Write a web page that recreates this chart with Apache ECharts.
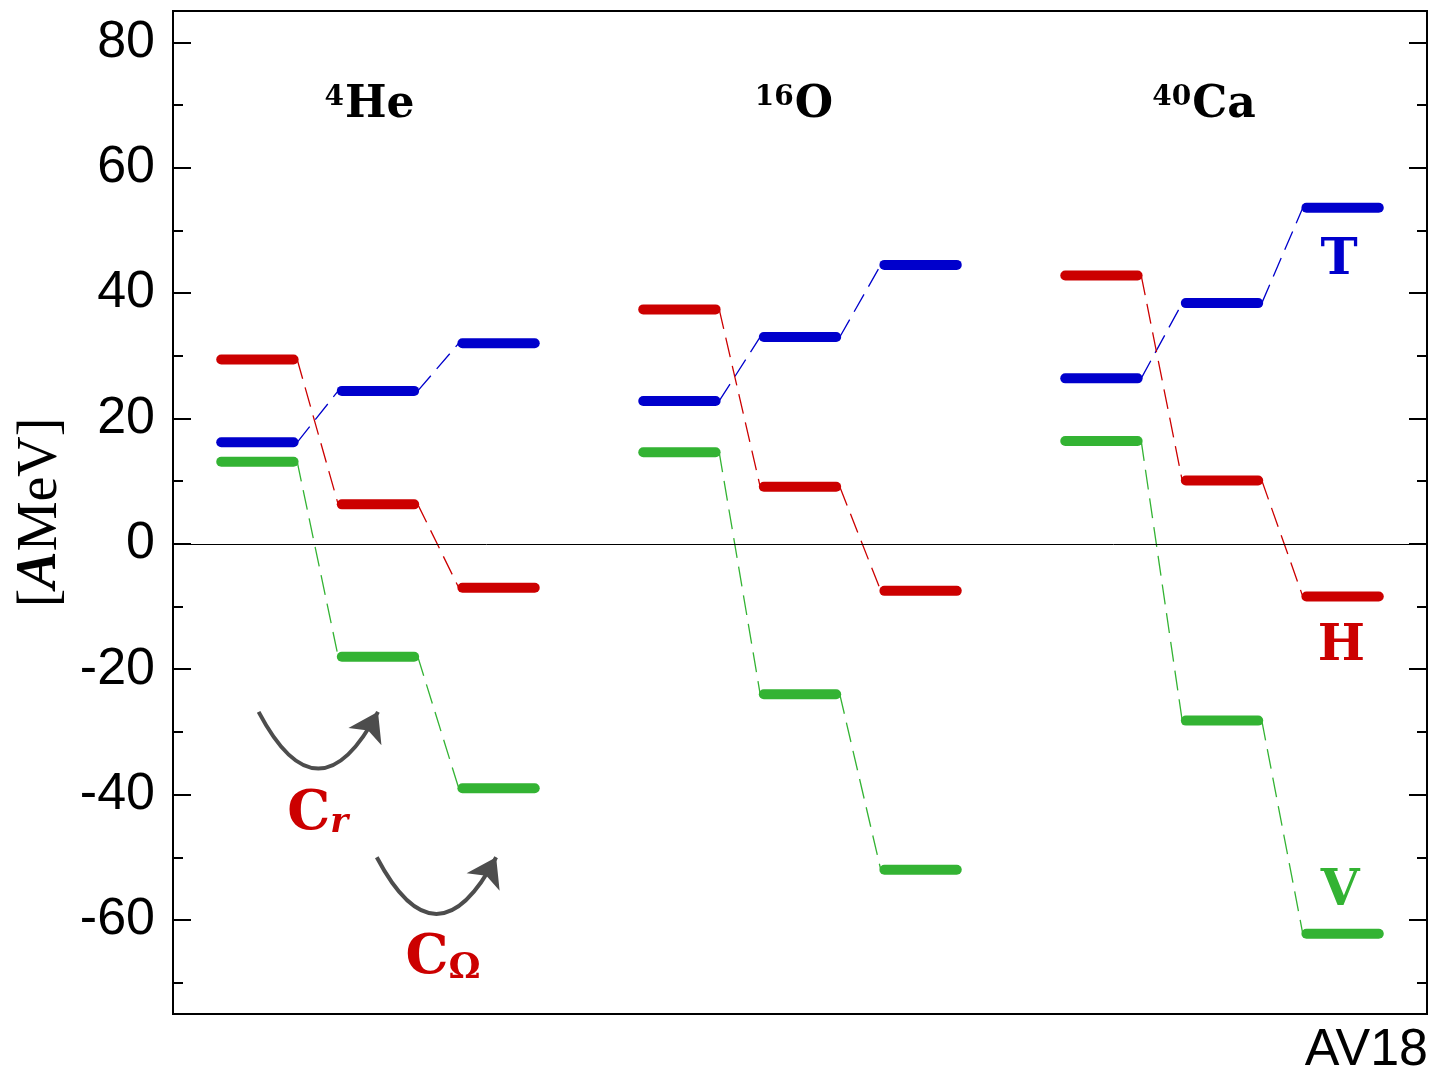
<!DOCTYPE html>
<html>
<head>
<meta charset="utf-8">
<script src="https://cdn.jsdelivr.net/npm/echarts@6/dist/echarts.min.js"></script>
<style>
  html, body { margin: 0; padding: 0; background: #fff; }
  #chart { width: 1429px; height: 1080px; }
</style>
</head>
<body>
<div id="chart"></div>
<script>
// nuclei and the three steps (bare, C_r, C_Omega) for each one
const nuclei = ["He", "O", "Ca"];
const massNumbers = ["4", "16", "40"];
// energies per nucleus [step0, step1, step2] in A MeV
const kinetic = [[16.2, 24.4, 32.0], [22.8, 33.0, 44.5], [26.4, 38.4, 53.6]];
const total = [[29.4, 6.3, -7.0], [37.4, 9.1, -7.5], [42.8, 10.1, -8.4]];
const potential = [[13.1, -18.0, -39.0], [14.6, -24.0, -52.0], [16.4, -28.2, -62.2]];
const majorTicks = [-60, -40, -20, 0, 20, 40, 60, 80];
const minorTicks = [-70, -50, -30, -10, 10, 30, 50, 70];

const RED = "#cc0000", BLUE = "#0000cc", GREEN = "#33b333";
const HALF = 0.3;     // half length of a level bar, x units
const EDGE = 0.33;    // where the dashed connector starts/ends
const GAP = 3.5;      // x distance between nuclei
const serif = "'DejaVu Serif', 'Liberation Serif', serif";
const serifAxis = "'Liberation Serif', 'DejaVu Serif', serif";
const sans = "'Liberation Sans', Arial, sans-serif";

const stepX = (n, s) => n * GAP + s;

function levelPoints(vals) {
  const out = [];
  vals.forEach((row, n) => row.forEach((v, s) => out.push([stepX(n, s), v])));
  return out;
}
function connectorPoints(vals) {
  const out = [];
  vals.forEach((row, n) => {
    for (let s = 0; s < row.length - 1; s++) {
      out.push([stepX(n, s), row[s], stepX(n, s + 1), row[s + 1]]);
    }
  });
  return out;
}

function levelSeries(vals, color) {
  return {
    type: "custom",
    data: levelPoints(vals),
    encode: { x: 0, y: 1 },
    z: 5,
    renderItem: (params, api) => {
      const y = api.value(1), x = api.value(0);
      const a = api.coord([x - HALF, y]), b = api.coord([x + HALF, y]);
      return {
        type: "line",
        shape: { x1: a[0], y1: a[1], x2: b[0], y2: b[1] },
        style: { stroke: color, lineWidth: 10, lineCap: "round" },
      };
    },
  };
}
function connectorSeries(vals, color) {
  return {
    type: "custom",
    data: connectorPoints(vals),
    encode: { x: [0, 2], y: [1, 3] },
    z: 3,
    renderItem: (params, api) => {
      const a = api.coord([api.value(0) + EDGE, api.value(1)]);
      const b = api.coord([api.value(2) - EDGE, api.value(3)]);
      return {
        type: "line",
        shape: { x1: a[0], y1: a[1], x2: b[0], y2: b[1] },
        style: { stroke: color, lineWidth: 1.3, lineDash: [20, 9] },
      };
    },
  };
}

function textSeries(items) {
  return {
    type: "scatter",
    symbolSize: 0,
    silent: true,
    z: 6,
    itemStyle: { opacity: 1 },
    data: items.map((t) => ({
      value: t.at,
      label: {
        show: true,
        position: "inside",
        formatter: t.text,
        color: t.color || "#000",
        opacity: 1,
        fontFamily: serif,
        fontWeight: "bold",
        fontSize: t.size || 50,
        rich: t.rich,
      },
    })),
  };
}

const nucleusRich = {
  sup: { fontSize: 28, fontFamily: serif, fontWeight: "bold", color: "#000", verticalAlign: "top", padding: [0, 1, 13, 0] },
  main: { fontSize: 44, fontFamily: serif, fontWeight: "bold", color: "#000" },
};
const subRich = (italic, size) => ({
  c: { fontSize: 54, fontFamily: serif, fontWeight: "bold", color: RED },
  s: { fontSize: size, fontFamily: serif, fontWeight: "bold", fontStyle: italic ? "italic" : "normal", color: RED, padding: [18, 0, 0, 0] },
});
const labelTexts = [
  { at: [0.93, 69.9], text: `{sup|${massNumbers[0]}}{main|${nuclei[0]}}`, rich: nucleusRich },
  { at: [4.45, 69.9], text: `{sup|${massNumbers[1]}}{main|${nuclei[1]}}`, rich: nucleusRich },
  { at: [7.85, 69.9], text: `{sup|${massNumbers[2]}}{main|${nuclei[2]}}`, rich: nucleusRich },
  { at: [8.97, 45.1], text: "T", color: BLUE },
  { at: [8.99, -16.4], text: "H", color: RED },
  { at: [8.98, -55.5], text: "V", color: GREEN },
  { at: [0.5, -43.2], text: "{c|C}{s|r}", rich: subRich(true, 34) },
  { at: [1.54, -66.3], text: "{c|C}{s|Ω}", rich: subRich(false, 36) },
];

function yAx(position, ticks, len, withLabels) {
  return {
    type: "value",
    position: position,
    min: -75,
    max: 85,
    axisLine: { show: false, onZero: false },
    splitLine: { show: false },
    axisTick: { show: true, inside: true, length: len, customValues: ticks, lineStyle: { color: "#000", width: 2 } },
    axisLabel: withLabels
      ? { show: true, customValues: ticks, margin: 18, fontSize: 52, color: "#000", fontFamily: sans }
      : { show: false },
  };
}

const chart = echarts.init(document.getElementById("chart"));
const option = {
  backgroundColor: "#fff",
  animation: false,
  grid: {
    left: 173, right: 2, top: 11, bottom: 66,
    outerBoundsMode: "none",
    containLabel: false,
    show: true, borderColor: "#000", borderWidth: 2, backgroundColor: "transparent",
  },
  xAxis: { type: "value", min: -0.7, max: 9.7, show: false },
  yAxis: [
    Object.assign(yAx("left", majorTicks, 18, true), {
      name: "{b|[}{i|A}{b|MeV]}",
      nameLocation: "middle",
      nameRotate: 90,
      nameGap: 104,
      nameTextStyle: {
        rich: {
          b: { fontSize: 56, fontFamily: serifAxis, color: "#000" },
          i: { fontSize: 56, fontFamily: serifAxis, fontStyle: "italic", fontWeight: "bold", color: "#000" },
        },
      },
    }),
    yAx("left", minorTicks, 10, false),
    yAx("right", majorTicks, 18, false),
    yAx("right", minorTicks, 10, false),
  ],
  graphic: [
    {
      type: "text",
      right: 1,
      bottom: 3,
      style: { text: "AV18", fontSize: 52, fontFamily: sans, fill: "#000" },
    },
  ],
  series: [
    {
      type: "line",
      data: [],
      markLine: {
        silent: true,
        symbol: "none",
        label: { show: false },
        lineStyle: { color: "#000", width: 1, type: "solid" },
        data: [{ yAxis: 0 }],
      },
    },
    connectorSeries(kinetic, BLUE),
    connectorSeries(total, RED),
    connectorSeries(potential, GREEN),
    levelSeries(kinetic, BLUE),
    levelSeries(total, RED),
    levelSeries(potential, GREEN),
    {
      type: "lines",
      coordinateSystem: "cartesian2d",
      silent: true,
      z: 4,
      symbol: ["none", "arrow"],
      symbolSize: 28,
      lineStyle: { color: "#4d4d4d", width: 4, curveness: -0.95, opacity: 1 },
      data: [
        { coords: [[0.01, -26.8], [1.0, -26.8]] },
        { coords: [[0.99, -50.0], [1.98, -50.0]] },
      ],
    },
    textSeries(labelTexts),
  ],
};
chart.setOption(option);
</script>
</body>
</html>
